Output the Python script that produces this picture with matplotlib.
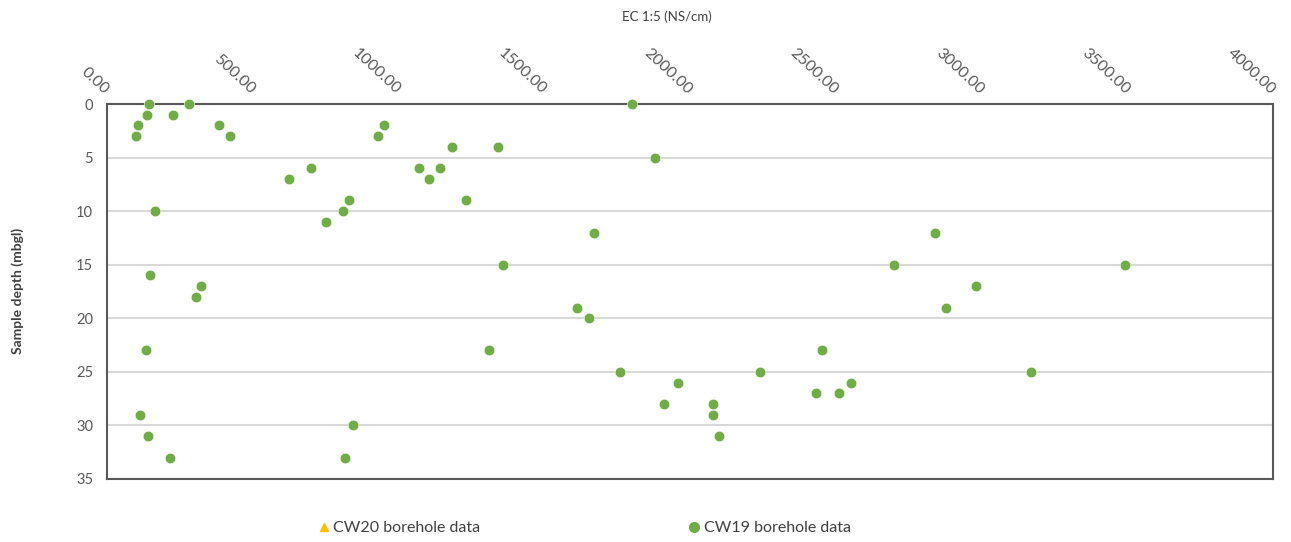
import matplotlib
matplotlib.use("Agg")
import matplotlib.pyplot as plt
from matplotlib.lines import Line2D

plt.rcParams['font.family'] = ['Lato', 'DejaVu Sans']

# EC 1:5 readings per sample depth, CW19 borehole
cw19_depth = [0, 0, 0,
              1, 1,
              2, 2, 2,
              3, 3, 3,
              4, 4,
              5,
              6, 6, 6,
              7, 7,
              9, 9,
              10, 10,
              11,
              12, 12,
              15, 15, 15,
              16,
              17, 17,
              18,
              19, 19,
              20,
              23, 23, 23,
              25, 25, 25,
              26, 26,
              27, 27,
              28, 28,
              29, 29,
              30,
              31, 31,
              33, 33]
cw19_ec = [144, 280, 1800,
           136, 226,
           106, 383, 951,
           98, 421, 929,
           1183, 1340,
           1880,
           701, 1072, 1143,
           623, 1103,
           831, 1232,
           164, 810,
           750,
           1671, 2840,
           1360, 2700, 3491,
           146,
           324, 2980,
           304,
           1611, 2879,
           1652,
           135, 1312, 2452,
           1760, 2240, 3171,
           1960, 2551,
           2432, 2511,
           1912, 2080,
           114, 2080,
           844,
           141, 2100,
           217, 815]

# CW20 borehole has no readings in this range
cw20_depth = []
cw20_ec = []

x_ticks = [0, 500, 1000, 1500, 2000, 2500, 3000, 3500, 4000]
y_ticks = [0, 5, 10, 15, 20, 25, 30, 35]

W, H = 1291, 542
fig = plt.figure(figsize=(W / 100, H / 100), dpi=100)
ax = fig.add_axes([107 / W, 1 - 479 / H, (1273 - 107) / W, (479 - 104) / H])

green = '#70ad47'
orange = '#ffc000'
text_col = '#595959'

ax.scatter(cw20_ec, cw20_depth, marker='^', s=40, color=orange, zorder=3,
           clip_on=False)
ax.scatter(cw19_ec, cw19_depth, marker='o', s=58, color=green,
           edgecolors='white', linewidths=0.4, zorder=3, clip_on=False)

ax.set_xlim(0, 4000)
ax.set_ylim(35, 0)
ax.set_yticks(y_ticks)
ax.set_xticks(x_ticks)
ax.xaxis.tick_top()
ax.set_xticklabels([f'{v:.2f}' for v in x_ticks], rotation=-43,
                   rotation_mode='anchor', ha='right', va='center',
                   fontsize=11.5, color=text_col)
ax.set_yticklabels([str(v) for v in y_ticks], fontsize=10.5, color=text_col)
ax.tick_params(axis='x', length=0, pad=9)
ax.tick_params(axis='y', length=0, pad=10)

ax.grid(axis='y', color='#d9d9d9', linewidth=1.5)
ax.set_axisbelow(True)
for s in ax.spines.values():
    s.set_color('#595959')
    s.set_linewidth(1.5)

fig.text(667 / W, 1 - 17 / H, 'EC 1:5 (NS/cm)', ha='center', va='center',
         fontsize=9.5, color='#404040')
fig.text(18 / W, 1 - 291 / H, 'Sample depth (mbgl)', rotation=90,
         ha='center', va='center', fontsize=10, fontweight='bold',
         color='#404040')

handles = [Line2D([], [], marker='^', linestyle='none', color=orange,
                  markersize=6),
           Line2D([], [], marker='o', linestyle='none', color=green,
                  markersize=7)]
fig.legend(handles, ['CW20 borehole data', 'CW19 borehole data'],
           loc='center', bbox_to_anchor=(585 / W, 1 - 528 / H), ncol=2,
           frameon=False, fontsize=11.5, handlelength=0.6, handletextpad=0.3,
           columnspacing=13.1, labelcolor='#404040')

fig.savefig('out.png', dpi=100)
